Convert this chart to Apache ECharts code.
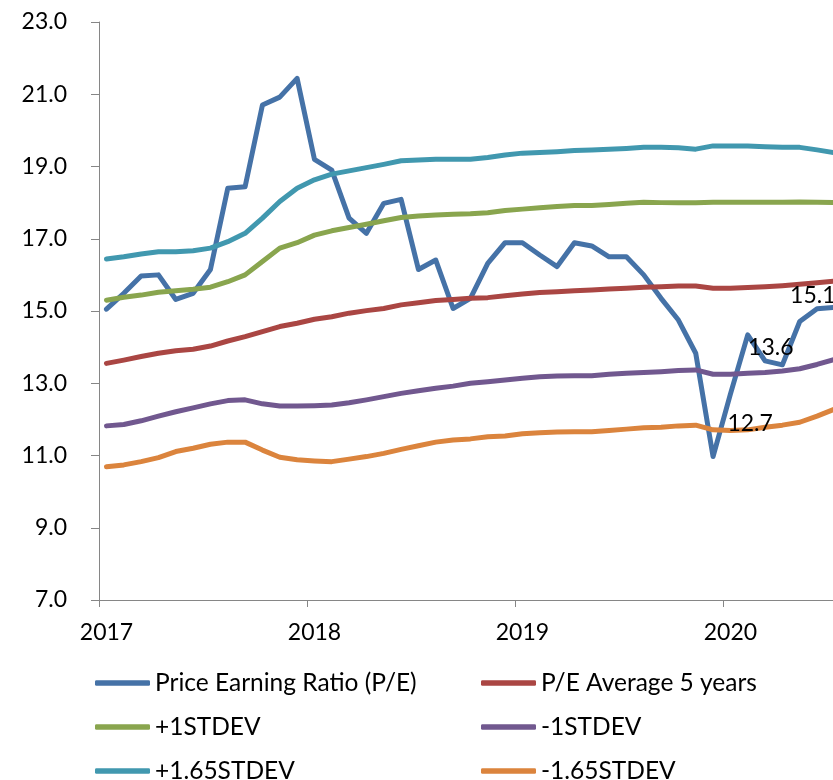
<!DOCTYPE html>
<html><head><meta charset="utf-8">
<script src="https://cdn.jsdelivr.net/npm/echarts@6/dist/echarts.min.js"></script>
<style>html,body{margin:0;padding:0;background:#fff}#c{width:833px;height:780px}</style>
</head><body><div id="c"></div>
<script>
// Monthly observations (Jan 2017 .. Jul 2020)
const months = ['2017-01','2017-02','2017-03','2017-04','2017-05','2017-06','2017-07','2017-08','2017-09','2017-10','2017-11','2017-12',
  '2018-01','2018-02','2018-03','2018-04','2018-05','2018-06','2018-07','2018-08','2018-09','2018-10','2018-11','2018-12',
  '2019-01','2019-02','2019-03','2019-04','2019-05','2019-06','2019-07','2019-08','2019-09','2019-10','2019-11','2019-12',
  '2020-01','2020-02','2020-03','2020-04','2020-05','2020-06','2020-07'];
const yearLabels = ['2017','2018','2019','2020'];
const yTickValues = [7,9,11,13,15,17,19,21,23];

const peRatio = [15.05,15.49,15.97,16.0,15.32,15.49,16.15,18.40,18.44,20.70,20.92,21.44,
  19.20,18.90,17.57,17.15,17.98,18.09,16.15,16.41,15.07,15.35,16.32,16.89,
  16.89,16.55,16.23,16.89,16.80,16.50,16.50,16.0,15.35,14.75,13.83,10.97,
  12.7,14.34,13.62,13.51,14.71,15.06,15.1];
const peAvg5 = [13.55,13.64,13.74,13.83,13.90,13.94,14.03,14.17,14.29,14.43,14.57,14.66,
  14.77,14.84,14.94,15.01,15.07,15.17,15.23,15.29,15.32,15.35,15.37,15.42,
  15.47,15.51,15.53,15.56,15.58,15.61,15.63,15.66,15.67,15.69,15.69,15.63,
  15.63,15.65,15.67,15.70,15.74,15.78,15.83];
const plus1 = [15.30,15.38,15.44,15.52,15.56,15.60,15.66,15.81,16.0,16.37,16.74,16.89,
  17.10,17.22,17.31,17.40,17.50,17.59,17.63,17.66,17.68,17.69,17.72,17.78,
  17.82,17.86,17.89,17.92,17.92,17.95,17.98,18.01,18.0,18.0,18.0,18.01,
  18.01,18.01,18.01,18.01,18.02,18.01,18.0];
const minus1 = [11.82,11.86,11.96,12.09,12.21,12.32,12.43,12.52,12.54,12.43,12.37,12.37,
  12.38,12.40,12.46,12.54,12.63,12.72,12.79,12.86,12.92,13.0,13.04,13.09,
  13.14,13.18,13.20,13.21,13.21,13.25,13.28,13.30,13.32,13.35,13.37,13.25,
  13.25,13.28,13.30,13.34,13.40,13.52,13.66];
const plus165 = [16.44,16.50,16.58,16.64,16.64,16.67,16.74,16.92,17.15,17.57,18.03,18.40,
  18.63,18.79,18.88,18.97,19.06,19.16,19.18,19.20,19.20,19.20,19.25,19.32,
  19.37,19.39,19.41,19.44,19.46,19.48,19.50,19.53,19.53,19.52,19.48,19.57,
  19.57,19.57,19.55,19.53,19.53,19.46,19.38];
const minus165 = [10.69,10.74,10.83,10.94,11.11,11.20,11.31,11.37,11.37,11.15,10.95,10.88,
  10.85,10.83,10.90,10.97,11.06,11.17,11.27,11.37,11.43,11.46,11.52,11.54,
  11.60,11.63,11.65,11.66,11.66,11.69,11.73,11.77,11.78,11.82,11.84,11.71,
  11.69,11.71,11.78,11.84,11.92,12.09,12.28];
const peLabelIndex = [36, 38, 41];

// styling / layout
const FONT = 'Lato';
const pointOffset = 0.43;          // observation date within its month
const axisEnd = 42.35;             // visible x range in months from Jan 2017
const labelOffsets = {36: [-3, 29], 38: [-17, -13], 41: [-27, -13]};
const colors = ['#4572A7', '#AA4643', '#89A54E', '#71588F', '#4198AF', '#DB843D'];
const names = ['Price Earning Ratio (P/E)', 'P/E Average 5 years', '+1STDEV', '-1STDEV', '+1.65STDEV', '-1.65STDEV'];
const seriesValues = [peRatio, peAvg5, plus1, minus1, plus165, minus165];
const legendCols = [95, 481];
const legendRowCenters = [683, 727, 771];

const monthIndex = m => { const [y, mo] = m.split('-').map(Number); return (y - 2017) * 12 + (mo - 1); };
const yearTickVals = yearLabels.map(y => (Number(y) - 2017) * 12);

function buildData(vals, withLabels) {
  return vals.map((v, i) => {
    const x = monthIndex(months[i]) + pointOffset;
    if (withLabels && peLabelIndex.includes(i)) {
      return {
        value: [x, v], symbol: 'circle', symbolSize: 0,
        label: { show: true, position: 'inside', offset: labelOffsets[i], align: 'left', verticalAlign: 'middle',
          formatter: p => p.value[1].toFixed(1), fontFamily: FONT, fontSize: 23, color: '#000' }
      };
    }
    return { value: [x, v], symbol: 'none' };
  });
}

const LEG_LH = 28;
const legends = names.map((n, k) => ({
  data: [n], orient: 'horizontal', padding: 0,
  left: legendCols[k % 2], top: legendRowCenters[Math.floor(k / 2)] - LEG_LH / 2,
  itemWidth: 55, itemHeight: 5.5, icon: 'roundRect',
  textStyle: { fontFamily: FONT, fontSize: 24.5, color: '#000', lineHeight: LEG_LH }
}));

const chart = echarts.init(document.getElementById('c'), null, { renderer: 'canvas' });
chart.setOption({
  animation: false,
  backgroundColor: '#fff',
  grid: { left: 99, right: 0, top: 22, bottom: 180, containLabel: false },
  legend: legends,
  xAxis: {
    type: 'value', min: 0, max: axisEnd, interval: 12,
    axisLine: { show: true, lineStyle: { color: '#868686', width: 1 } },
    axisTick: { show: true, length: 7, customValues: yearTickVals, lineStyle: { color: '#868686' } },
    axisLabel: { customValues: yearTickVals, formatter: v => String(2017 + Math.round(v / 12)),
      fontFamily: FONT, fontSize: 23, color: '#000', margin: 21, padding: [0, 0, 0, 15] },
    splitLine: { show: false }
  },
  yAxis: {
    type: 'value', min: yTickValues[0], max: yTickValues[yTickValues.length - 1], interval: 2,
    axisLine: { show: true, lineStyle: { color: '#868686', width: 1 } },
    axisTick: { show: true, length: 8, lineStyle: { color: '#868686' } },
    axisLabel: { formatter: v => v.toFixed(1), fontFamily: FONT, fontSize: 23, color: '#000', margin: 32 },
    splitLine: { show: false }
  },
  series: seriesValues.map((vals, k) => ({
    name: names[k], type: 'line', color: colors[k],
    data: buildData(vals, k === 0),
    showSymbol: true, symbol: 'none',
    lineStyle: { width: 5, color: colors[k], cap: 'round', join: 'round' },
    itemStyle: { color: colors[k] },
    emphasis: { disabled: true }
  }))
});
</script></body></html>
